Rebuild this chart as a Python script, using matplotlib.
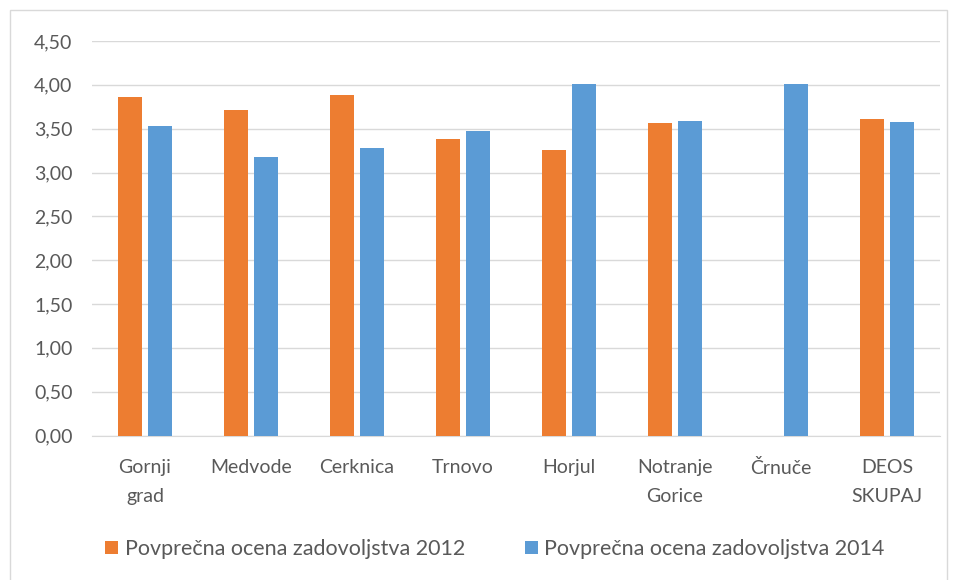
import matplotlib.pyplot as plt
import numpy as np
from matplotlib.patches import Rectangle

categories = [
    "Gornji\ngrad",
    "Medvode",
    "Cerknica",
    "Trnovo",
    "Horjul",
    "Notranje\nGorice",
    "Črnuče",
    "DEOS\nSKUPAJ",
]
values_2012 = [3.86, 3.71, 3.88, 3.38, 3.26, 3.56, np.nan, 3.61]
values_2014 = [3.53, 3.18, 3.28, 3.47, 4.01, 3.59, 4.01, 3.58]
y_ticks = [0.0, 0.5, 1.0, 1.5, 2.0, 2.5, 3.0, 3.5, 4.0, 4.5]

ORANGE = "#ED7D31"
BLUE = "#5B9BD5"
TEXT = "#595959"

plt.rcParams["font.family"] = ["Lato", "DejaVu Sans"]

fig = plt.figure(figsize=(9.57, 5.8), dpi=100)
fig.patches.append(
    Rectangle(
        (10 / 957, -0.01),
        937 / 957,
        1 - 10 / 580 + 0.01,
        transform=fig.transFigure,
        fill=False,
        edgecolor="#d9d9d9",
        linewidth=1,
    )
)

ax = fig.add_axes([92 / 957, 1 - 435.5 / 580, 848 / 957, 394.5 / 580])

x = np.arange(len(categories))
width = 0.225
offset = 0.145

ax.bar(x - offset, values_2012, width, color=ORANGE,
       label="Povprečna ocena zadovoljstva 2012", zorder=3)
ax.bar(x + offset, values_2014, width, color=BLUE,
       label="Povprečna ocena zadovoljstva 2014", zorder=3)

ax.set_xlim(-0.5, len(categories) - 0.5)
ax.set_ylim(0, 4.5)
ax.set_yticks(y_ticks)
ax.set_yticklabels([f"{v:.2f}".replace(".", ",") for v in y_ticks],
                   fontsize=14, color=TEXT)
ax.set_xticks(x)
ax.set_xticklabels(categories, fontsize=14, color=TEXT, linespacing=1.85)
ax.tick_params(axis="both", length=0)
ax.tick_params(axis="y", pad=14)
ax.tick_params(axis="x", pad=17)

ax.grid(axis="y", color="#d9d9d9", linewidth=1, zorder=0)
for side in ["top", "right", "left"]:
    ax.spines[side].set_visible(False)
ax.spines["bottom"].set_color("#d9d9d9")

fig.legend(
    loc="center",
    bbox_to_anchor=(495 / 957, 1 - 549 / 580),
    ncol=2,
    frameon=False,
    fontsize=15.5,
    labelcolor=TEXT,
    handlelength=0.6,
    handleheight=0.6,
    handletextpad=0.3,
    columnspacing=2.8,
)

fig.savefig("out.png", dpi=100)
